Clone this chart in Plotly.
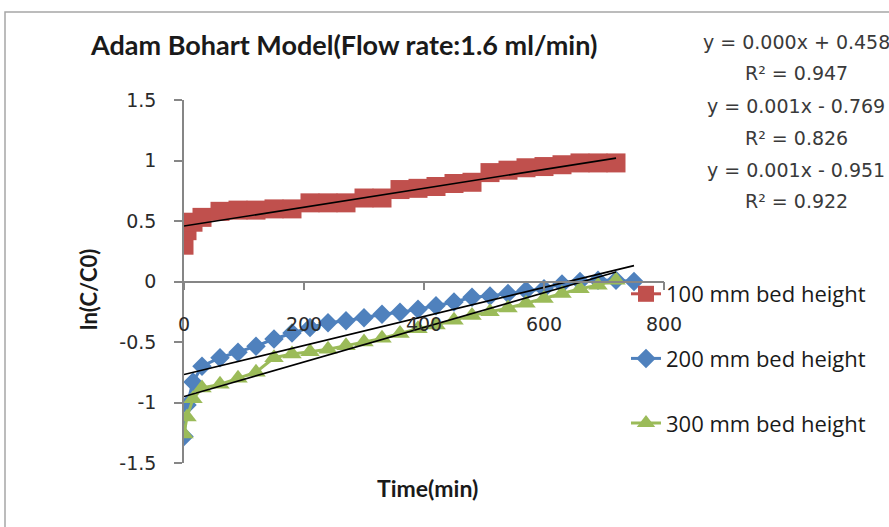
import plotly.graph_objects as go

# Sampling times (min)
times = [0, 5, 15, 30, 60, 90, 120, 150, 180, 210, 240, 270, 300, 330, 360,
         390, 420, 450, 480, 510, 540, 570, 600, 630, 660, 690, 720]
times_200 = times + [750]

# ln(C/C0) for each bed height
ln_100 = [0.30, 0.42, 0.49, 0.53, 0.58, 0.59, 0.59, 0.60, 0.60, 0.65, 0.65,
          0.65, 0.69, 0.69, 0.76, 0.77, 0.785, 0.81, 0.82, 0.90, 0.92, 0.94,
          0.95, 0.965, 0.98, 0.98, 0.98]
ln_200 = [-1.28, -1.02, -0.83, -0.70, -0.63, -0.585, -0.535, -0.475, -0.425,
          -0.38, -0.34, -0.325, -0.30, -0.27, -0.255, -0.23, -0.20, -0.17,
          -0.13, -0.12, -0.10, -0.075, -0.06, -0.02, 0.0, 0.01, 0.01, 0.0]
ln_300 = [-1.26, -1.12, -0.97, -0.88, -0.85, -0.80, -0.75, -0.63, -0.60,
          -0.58, -0.56, -0.53, -0.50, -0.47, -0.43, -0.39, -0.36, -0.32,
          -0.28, -0.25, -0.22, -0.18, -0.14, -0.10, -0.06, -0.03, 0.01]

series_names = ["100 mm bed height", "200 mm bed height", "300 mm bed height"]
series_colors = ["#C0504D", "#4F81BD", "#9BBB59"]

# Linear trendlines (slope, intercept, last time)
trend_slope = [0.00078, 0.00120, 0.00143]
trend_intercept = [0.458, -0.769, -0.951]
trend_end = [720, 750, 720]
trend_eq = ["y = 0.000x + 0.458", "y = 0.001x - 0.769", "y = 0.001x - 0.951"]
trend_r2 = ["R\u00b2 = 0.947", "R\u00b2 = 0.826", "R\u00b2 = 0.922"]

x_ticks = [0, 200, 400, 600, 800]
y_ticks = [-1.5, -1, -0.5, 0, 0.5, 1, 1.5]
y_tick_text = ["-1.5", "-1", "-0.5", "0", "0.5", "1", "1.5"]

W, H = 889, 527
ML, MR, MT, MB = 184, 225, 100, 64
PW, PH = W - ML - MR, H - MT - MB


def px_x(p):
    return (p - ML) / PW


def px_y(q):
    return (H - MB - q) / PH


fig = go.Figure()

xs = [times, times_200, times]
ys = [ln_100, ln_200, ln_300]
symbols = ["square", "diamond", "triangle-up"]
sizes = [19, 15, 17]
for i in range(3):
    fig.add_trace(go.Scatter(
        x=xs[i], y=ys[i], name=series_names[i], mode="lines+markers",
        line=dict(color=series_colors[i], width=3),
        marker=dict(symbol=symbols[i], size=sizes[i], color=series_colors[i]),
        legendgroup=str(i),
    ))

for i in range(3):
    tx = [0, trend_end[i]]
    ty = [trend_intercept[i] + trend_slope[i] * t for t in tx]
    fig.add_trace(go.Scatter(
        x=tx, y=ty, mode="lines", showlegend=False, hoverinfo="skip",
        line=dict(color="black", width=1.6),
    ))

eq_font = dict(family="DejaVu Sans", size=19, color="#3a3a3a")
eq_rows = [(42, 73), (106, 138), (170, 201)]
annotations = []
for i in range(3):
    annotations.append(dict(text=trend_eq[i], x=px_x(796), y=px_y(eq_rows[i][0]),
                            xref="paper", yref="paper", showarrow=False,
                            xanchor="center", yanchor="middle", font=eq_font))
    annotations.append(dict(text=trend_r2[i], x=px_x(796), y=px_y(eq_rows[i][1]),
                            xref="paper", yref="paper", showarrow=False,
                            xanchor="center", yanchor="middle", font=eq_font))

annotations.append(dict(text="<b>Adam Bohart Model(Flow rate:1.6 ml/min)</b>",
                        x=px_x(343), y=px_y(44), xref="paper", yref="paper",
                        showarrow=False, xanchor="center", yanchor="middle",
                        font=dict(family="Lato", size=27, color="#1a1a1a")))
annotations.append(dict(text="<b>Time(min)</b>",
                        x=px_x(427), y=px_y(488), xref="paper", yref="paper",
                        showarrow=False, xanchor="center", yanchor="middle",
                        font=dict(family="Lato", size=23, color="#1a1a1a")))
annotations.append(dict(text="<b>ln(C/C0)</b>", textangle=-90,
                        x=px_x(88), y=px_y(290), xref="paper", yref="paper",
                        showarrow=False, xanchor="center", yanchor="middle",
                        font=dict(family="Lato", size=22, color="#1a1a1a")))

fig.update_layout(
    width=W, height=H,
    margin=dict(l=ML, r=MR, t=MT, b=MB),
    paper_bgcolor="white", plot_bgcolor="white",
    showlegend=True,
    legend=dict(x=px_x(626), y=px_y(273), xanchor="left", yanchor="top",
                bgcolor="rgba(0,0,0,0)", tracegroupgap=33,
                traceorder="grouped",
                font=dict(family="Open Sans", size=22, color="#1a1a1a")),
    xaxis=dict(range=[0, 800], tickvals=x_ticks, showgrid=False, zeroline=False,
               showline=True, linecolor="#868686", linewidth=1.5,
               ticks="outside", ticklen=8, tickcolor="#868686", tickwidth=1.5,
               anchor="free", position=0.5, ticklabelstandoff=18,
               tickfont=dict(family="DejaVu Sans", size=19, color="#2a2a2a")),
    yaxis=dict(range=[-1.5, 1.5], tickvals=y_ticks, ticktext=y_tick_text,
               showgrid=False, zeroline=False,
               showline=True, linecolor="#868686", linewidth=1.5,
               ticks="outside", ticklen=8, tickcolor="#868686", tickwidth=1.5,
               ticklabelstandoff=14,
               tickfont=dict(family="DejaVu Sans", size=19, color="#2a2a2a")),
    annotations=annotations,
    shapes=[dict(type="rect", xref="paper", yref="paper",
                 x0=px_x(5), x1=px_x(1000), y0=px_y(600), y1=px_y(12),
                 line=dict(color="#a6a6a6", width=1.5), layer="below")],
)

fig.write_html("out.html")
